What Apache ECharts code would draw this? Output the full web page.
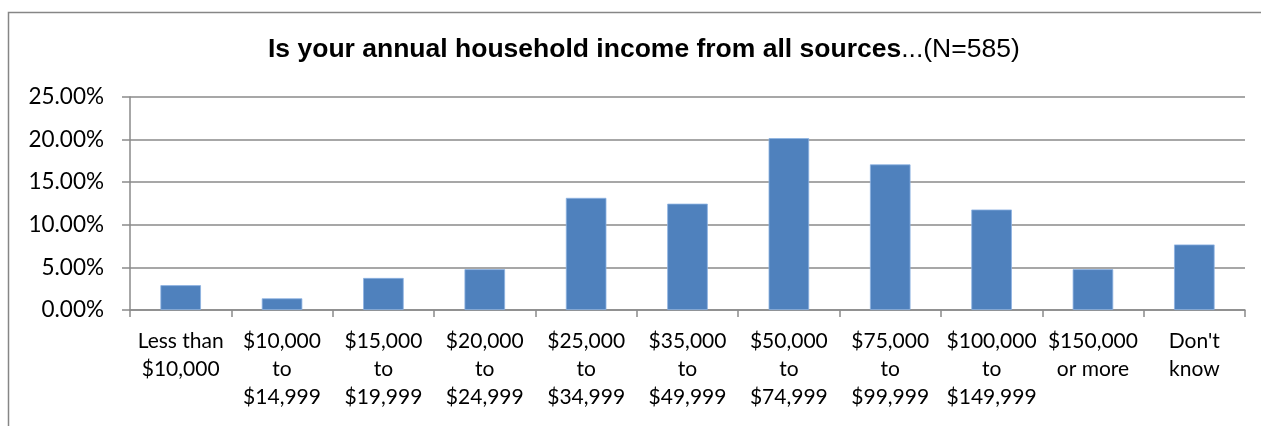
<!DOCTYPE html>
<html>
<head>
<meta charset="utf-8">
<title>Annual household income</title>
<script src="https://cdn.jsdelivr.net/npm/echarts@6/dist/echarts.min.js"></script>
<style>
  html, body { margin: 0; padding: 0; background: #ffffff; }
  #chart { width: 1261px; height: 426px; }
</style>
</head>
<body>
<div id="chart"></div>
<script>
// Income brackets (axis categories, one line per row of the label)
const categories = [
  'Less than\n$10,000',
  '$10,000\nto\n$14,999',
  '$15,000\nto\n$19,999',
  '$20,000\nto\n$24,999',
  '$25,000\nto\n$34,999',
  '$35,000\nto\n$49,999',
  '$50,000\nto\n$74,999',
  '$75,000\nto\n$99,999',
  '$100,000\nto\n$149,999',
  '$150,000\nor more',
  "Don't\nknow"
];

// Share of respondents in each bracket, percent (N=585)
const sharePct = [2.91, 1.37, 3.76, 4.79, 13.16, 12.48, 20.17, 17.09, 11.79, 4.79, 7.69];

// Value-axis ticks
const yTicks = [0, 5, 10, 15, 20, 25];

const axisFont = 'Lato, "Open Sans", sans-serif';
const titleFont = '"Liberation Sans", Arial, sans-serif';
const lineGray = '#8a8a8a';

const chart = echarts.init(document.getElementById('chart'), null, { renderer: 'canvas' });

chart.setOption({
  animation: false,
  backgroundColor: '#ffffff',
  graphic: [{
    type: 'rect',
    silent: true,
    shape: { x: 8.5, y: 12.5, width: 1400, height: 600 },
    style: { fill: 'none', stroke: '#868686', lineWidth: 1.5 }
  }],
  title: {
    left: 263,
    top: 31,
    text: '{b|Is your annual household income from all sources}{n|...(N=585)}',
    textStyle: {
      fontFamily: titleFont,
      fontSize: 26.5,
      rich: {
        b: { fontFamily: titleFont, fontWeight: 'bold', fontSize: 26.5, color: '#000000' },
        n: { fontFamily: titleFont, fontWeight: 'normal', fontSize: 26.5, color: '#000000' }
      }
    }
  },
  grid: { left: 130, right: 16, top: 97, bottom: 116, containLabel: false },
  xAxis: {
    type: 'category',
    data: categories,
    axisLine: { show: true, lineStyle: { color: lineGray, width: 1.5 } },
    axisTick: { show: true, length: 7, alignWithLabel: false, lineStyle: { color: lineGray, width: 1.5 } },
    axisLabel: {
      interval: 0,
      margin: 17,
      fontFamily: axisFont,
      fontSize: 21,
      lineHeight: 28,
      color: '#000000',
      align: 'center'
    }
  },
  yAxis: {
    type: 'value',
    min: yTicks[0],
    max: yTicks[yTicks.length - 1],
    interval: yTicks[1] - yTicks[0],
    axisLine: { show: true, lineStyle: { color: lineGray, width: 1.5 } },
    axisTick: { show: true, inside: false, length: 8, lineStyle: { color: lineGray, width: 1.5 } },
    splitLine: { show: true, lineStyle: { color: lineGray, width: 1.5 } },
    axisLabel: {
      margin: 26,
      fontFamily: axisFont,
      fontSize: 22.5,
      color: '#000000',
      formatter: v => v.toFixed(2) + '%'
    }
  },
  series: [{
    type: 'bar',
    data: sharePct,
    barCategoryGap: '60%',
    itemStyle: { color: '#4f81bd', borderColor: '#8db3e2', borderWidth: 0.8 }
  }]
});
</script>
</body>
</html>
